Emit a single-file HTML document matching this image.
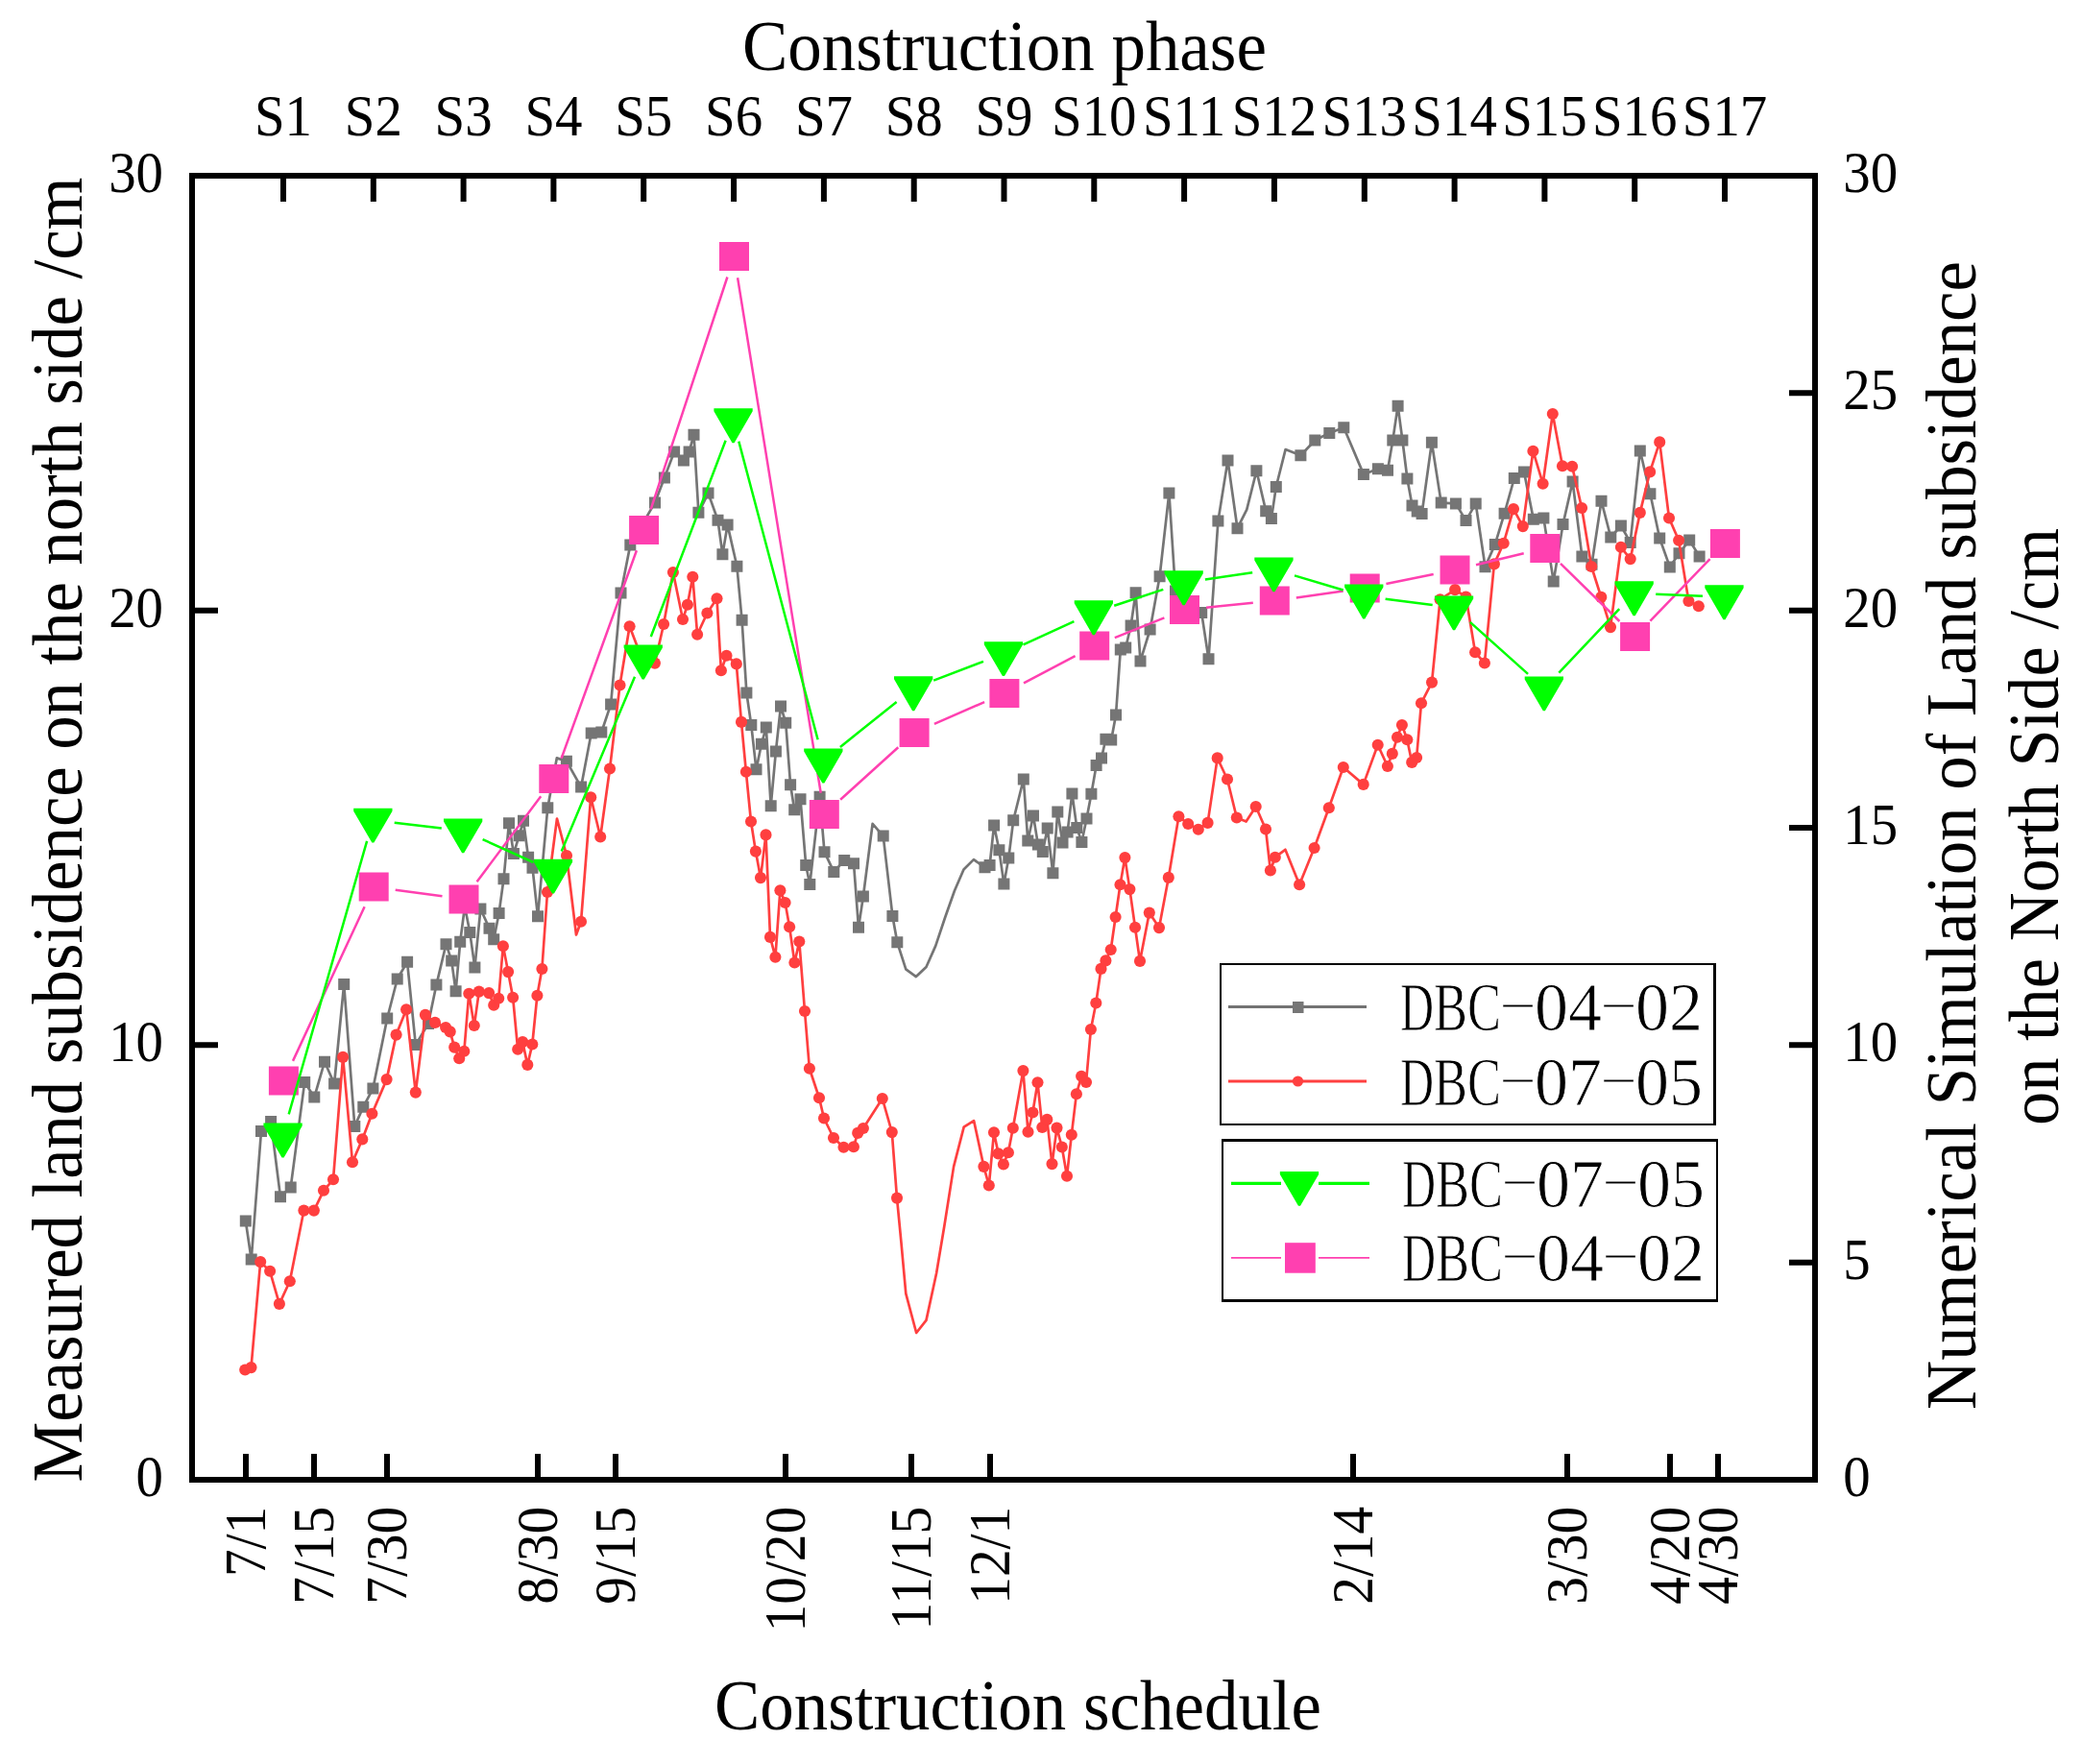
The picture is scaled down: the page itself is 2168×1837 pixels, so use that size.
<!DOCTYPE html>
<html lang="en"><head><meta charset="utf-8"><title>Construction phase</title>
<style>html,body{margin:0;padding:0;background:#fff}svg{display:block}text{font-family:"Liberation Serif",serif;fill:#000}</style></head><body>
<svg width="2168" height="1837" viewBox="0 0 2168 1837">
<rect width="2168" height="1837" fill="#fff"/>
<path d="M255.8 1271.5 L261.7 1311.5 L272.0 1178.0 L282.1 1168.0 L292.0 1246.3 L302.7 1236.4 L317.2 1126.9 L327.3 1142.6 L338.0 1105.7 L348.1 1128.5 L358.2 1025.0 L369.3 1172.9 L378.3 1152.7 L388.4 1133.6 L403.2 1060.5 L413.7 1019.5 L424.1 1001.8 L432.8 1088.1 L446.0 1066.0 L454.4 1025.6 L464.5 983.2 L470.2 1000.4 L474.6 1032.2 L479.2 980.8 L484.0 944.0 L489.3 971.1 L494.4 1007.4 L500.4 946.5 L509.5 966.7 L514.2 978.2 L519.6 950.9 L524.5 915.3 L530.0 857.2 L534.9 889.0 L540.6 870.2 L545.0 854.7 L550.1 892.8 L554.5 903.7 L560.0 954.3 L570.3 841.2 L579.8 789.4 L589.9 792.7 L605.1 819.6 L615.7 763.6 L626.3 762.5 L636.1 733.4 L646.5 617.6 L656.3 567.5 L682.0 523.4 L691.9 497.6 L702.1 470.6 L711.9 479.6 L717.6 470.6 L722.5 452.7 L727.4 533.8 L737.5 513.6 L747.5 541.7 L752.4 577.3 L757.6 546.6 L767.4 589.8 L772.6 645.8 L777.4 721.6 L782.3 755.1 L787.5 801.3 L792.9 774.7 L797.8 757.6 L802.7 839.2 L807.9 782.4 L813.0 735.5 L818.2 752.7 L823.1 817.2 L827.2 843.3 L833.5 832.3 L839.2 900.9 L843.3 920.9 L853.6 829.8 L858.5 887.3 L868.3 907.9 L879.2 896.0 L889.0 899.2 L894.0 965.8 L898.9 933.5 L908.6 857.9 L919.7 870.6 L929.4 953.9 L934.3 981.3 L943.3 1009.4 L953.9 1017.1 L964.5 1007.0 L974.3 984.9 L984.1 955.5 L993.9 927.8 L1003.5 905.5 L1013.9 895.1 L1025.5 903.3 L1030.6 901.0 L1035.1 859.5 L1040.4 885.3 L1045.4 920.5 L1050.3 893.5 L1055.2 854.3 L1065.8 811.5 L1070.3 875.5 L1076.0 849.4 L1080.9 879.6 L1085.8 887.0 L1090.7 862.5 L1096.4 909.3 L1101.3 845.5 L1106.5 877.4 L1111.6 866.6 L1116.4 826.5 L1121.3 861.9 L1126.4 877.0 L1131.5 852.5 L1136.4 826.8 L1141.6 797.1 L1147.0 789.4 L1151.4 769.8 L1157.2 770.6 L1162.0 744.5 L1166.8 676.4 L1172.2 674.5 L1177.6 651.5 L1182.6 617.3 L1187.5 688.4 L1197.6 655.5 L1207.6 600.2 L1217.4 513.5 L1224.0 615.5 L1251.2 638.1 L1258.5 686.2 L1268.4 542.6 L1278.5 479.5 L1288.5 550.2 L1298.3 530.6 L1308.4 490.3 L1318.2 532.3 L1323.9 539.9 L1328.8 507.0 L1338.6 468.1 L1354.4 474.3 L1369.3 458.5 L1384.3 450.9 L1399.3 445.2 L1419.9 493.9 L1434.9 488.2 L1445.0 489.8 L1450.3 458.5 L1455.6 422.7 L1460.4 458.5 L1465.4 498.5 L1470.5 526.6 L1475.7 532.5 L1480.6 535.0 L1490.9 460.7 L1500.7 523.6 L1515.9 524.4 L1526.5 542.1 L1536.7 524.4 L1546.5 590.2 L1556.8 566.9 L1566.6 534.7 L1576.8 498.0 L1587.0 491.4 L1596.8 540.8 L1607.4 539.6 L1617.7 605.4 L1627.5 546.1 L1637.6 501.6 L1647.4 579.6 L1657.5 587.8 L1667.5 521.7 L1677.3 559.5 L1687.9 547.5 L1697.7 564.9 L1707.8 469.4 L1718.4 514.3 L1728.2 560.5 L1738.8 590.4 L1748.5 576.3 L1759.2 562.5 L1769.6 579.4" fill="none" stroke="#757575" stroke-width="2.7" stroke-linejoin="round"/>
<path fill="#757575" d="M249.8 1265.5h12v12h-12zM255.7 1305.5h12v12h-12zM266.0 1172.0h12v12h-12zM276.1 1162.0h12v12h-12zM286.0 1240.3h12v12h-12zM296.7 1230.4h12v12h-12zM311.2 1120.9h12v12h-12zM321.3 1136.6h12v12h-12zM332.0 1099.7h12v12h-12zM342.1 1122.5h12v12h-12zM352.2 1019.0h12v12h-12zM363.3 1166.9h12v12h-12zM372.3 1146.7h12v12h-12zM382.4 1127.6h12v12h-12zM397.2 1054.5h12v12h-12zM407.7 1013.5h12v12h-12zM418.1 995.8h12v12h-12zM426.8 1082.1h12v12h-12zM440.0 1060.0h12v12h-12zM448.4 1019.6h12v12h-12zM458.5 977.2h12v12h-12zM464.2 994.4h12v12h-12zM468.6 1026.2h12v12h-12zM473.2 974.8h12v12h-12zM478.0 938.0h12v12h-12zM483.3 965.1h12v12h-12zM488.4 1001.4h12v12h-12zM494.4 940.5h12v12h-12zM503.5 960.7h12v12h-12zM508.2 972.2h12v12h-12zM513.6 944.9h12v12h-12zM518.5 909.3h12v12h-12zM524.0 851.2h12v12h-12zM528.9 883.0h12v12h-12zM534.6 864.2h12v12h-12zM539.0 848.7h12v12h-12zM544.1 886.8h12v12h-12zM548.5 897.7h12v12h-12zM554.0 948.3h12v12h-12zM564.3 835.2h12v12h-12zM583.9 786.7h12v12h-12zM599.1 813.6h12v12h-12zM609.7 757.6h12v12h-12zM620.3 756.5h12v12h-12zM630.1 727.4h12v12h-12zM640.5 611.6h12v12h-12zM650.3 561.5h12v12h-12zM676.0 517.4h12v12h-12zM685.9 491.6h12v12h-12zM696.1 464.6h12v12h-12zM705.9 473.6h12v12h-12zM711.6 464.6h12v12h-12zM716.5 446.7h12v12h-12zM721.4 527.8h12v12h-12zM731.5 507.6h12v12h-12zM741.5 535.7h12v12h-12zM746.4 571.3h12v12h-12zM751.6 540.6h12v12h-12zM761.4 583.8h12v12h-12zM766.6 639.8h12v12h-12zM771.4 715.6h12v12h-12zM776.3 749.1h12v12h-12zM781.5 795.3h12v12h-12zM786.9 768.7h12v12h-12zM791.8 751.6h12v12h-12zM796.7 833.2h12v12h-12zM801.9 776.4h12v12h-12zM807.0 729.5h12v12h-12zM812.2 746.7h12v12h-12zM817.1 811.2h12v12h-12zM821.2 837.3h12v12h-12zM827.5 826.3h12v12h-12zM833.2 894.9h12v12h-12zM837.3 914.9h12v12h-12zM847.6 823.8h12v12h-12zM852.5 881.3h12v12h-12zM862.3 901.9h12v12h-12zM873.2 890.0h12v12h-12zM883.0 893.2h12v12h-12zM888.0 959.8h12v12h-12zM892.9 927.5h12v12h-12zM913.7 864.6h12v12h-12zM923.4 947.9h12v12h-12zM928.3 975.3h12v12h-12zM1019.5 897.3h12v12h-12zM1024.6 895.0h12v12h-12zM1029.1 853.5h12v12h-12zM1034.4 879.3h12v12h-12zM1039.4 914.5h12v12h-12zM1044.3 887.5h12v12h-12zM1049.2 848.3h12v12h-12zM1059.8 805.5h12v12h-12zM1064.3 869.5h12v12h-12zM1070.0 843.4h12v12h-12zM1074.9 873.6h12v12h-12zM1079.8 881.0h12v12h-12zM1084.7 856.5h12v12h-12zM1090.4 903.3h12v12h-12zM1095.3 839.5h12v12h-12zM1100.5 871.4h12v12h-12zM1105.6 860.6h12v12h-12zM1110.4 820.5h12v12h-12zM1115.3 855.9h12v12h-12zM1120.4 871.0h12v12h-12zM1125.5 846.5h12v12h-12zM1130.4 820.8h12v12h-12zM1135.6 791.1h12v12h-12zM1141.0 783.4h12v12h-12zM1145.4 763.8h12v12h-12zM1151.2 764.6h12v12h-12zM1156.0 738.5h12v12h-12zM1160.8 670.4h12v12h-12zM1166.2 668.5h12v12h-12zM1171.6 645.5h12v12h-12zM1176.6 611.3h12v12h-12zM1181.5 682.4h12v12h-12zM1191.6 649.5h12v12h-12zM1201.6 594.2h12v12h-12zM1211.4 507.5h12v12h-12zM1218.0 609.5h12v12h-12zM1245.2 632.1h12v12h-12zM1252.5 680.2h12v12h-12zM1262.4 536.6h12v12h-12zM1272.5 473.5h12v12h-12zM1282.5 544.2h12v12h-12zM1302.4 484.3h12v12h-12zM1312.2 526.3h12v12h-12zM1317.9 533.9h12v12h-12zM1322.8 501.0h12v12h-12zM1348.4 468.3h12v12h-12zM1363.3 452.5h12v12h-12zM1378.3 444.9h12v12h-12zM1393.3 439.2h12v12h-12zM1413.9 487.9h12v12h-12zM1428.9 482.2h12v12h-12zM1439.0 483.8h12v12h-12zM1444.3 452.5h12v12h-12zM1449.6 416.7h12v12h-12zM1454.4 452.5h12v12h-12zM1459.4 492.5h12v12h-12zM1464.5 520.6h12v12h-12zM1469.7 526.5h12v12h-12zM1474.6 529.0h12v12h-12zM1484.9 454.7h12v12h-12zM1494.7 517.6h12v12h-12zM1509.9 518.4h12v12h-12zM1520.5 536.1h12v12h-12zM1530.7 518.4h12v12h-12zM1540.5 584.2h12v12h-12zM1550.8 560.9h12v12h-12zM1560.6 528.7h12v12h-12zM1570.8 492.0h12v12h-12zM1581.0 485.4h12v12h-12zM1590.8 534.8h12v12h-12zM1601.4 533.6h12v12h-12zM1611.7 599.4h12v12h-12zM1621.5 540.1h12v12h-12zM1631.6 495.6h12v12h-12zM1641.4 573.6h12v12h-12zM1651.5 581.8h12v12h-12zM1661.5 515.7h12v12h-12zM1671.3 553.5h12v12h-12zM1681.9 541.5h12v12h-12zM1691.7 558.9h12v12h-12zM1701.8 463.4h12v12h-12zM1712.4 508.3h12v12h-12zM1722.2 554.5h12v12h-12zM1732.8 584.4h12v12h-12zM1742.5 570.3h12v12h-12zM1753.2 556.5h12v12h-12zM1763.6 573.4h12v12h-12z"/>
<path d="M255.2 1426.5 L261.5 1424.1 L271.2 1314.1 L281.1 1323.8 L290.9 1357.9 L301.8 1334.3 L316.4 1260.6 L326.9 1260.6 L337.0 1239.8 L347.0 1228.3 L357.1 1100.9 L367.0 1210.2 L377.3 1186.4 L387.4 1159.8 L402.6 1124.1 L412.6 1077.6 L423.1 1051.2 L432.8 1137.6 L442.9 1056.9 L453.0 1064.9 L464.1 1070.0 L468.7 1074.4 L473.2 1090.6 L478.2 1102.3 L483.3 1094.8 L488.3 1034.7 L493.8 1068.0 L498.8 1032.6 L509.1 1034.1 L514.2 1046.8 L519.2 1039.7 L523.9 985.2 L529.1 1012.1 L534.1 1038.7 L539.2 1092.8 L544.2 1085.1 L549.3 1108.9 L554.3 1087.5 L559.4 1036.7 L564.4 1009.0 L570.0 929.0 L580.0 852.5 L590.0 891.0 L600.0 973.5 L605.0 959.8 L615.2 830.2 L625.2 871.5 L635.0 800.5 L645.5 713.5 L655.6 652.3 L669.6 689.0 L681.9 690.6 L691.1 650.0 L700.9 596.0 L711.0 645.0 L715.9 629.8 L721.3 600.8 L726.1 660.7 L736.4 638.5 L746.5 623.3 L750.9 698.3 L756.5 682.8 L766.8 691.4 L772.0 751.9 L776.9 803.8 L782.0 855.5 L786.9 886.6 L792.0 914.1 L797.5 869.4 L802.0 975.9 L807.4 996.7 L812.4 927.2 L817.6 940.0 L822.1 965.3 L827.4 1002.5 L832.3 980.5 L838.0 1053.0 L842.9 1112.8 L853.0 1143.2 L858.0 1164.5 L868.0 1185.0 L878.5 1194.8 L888.9 1194.2 L893.2 1179.9 L898.9 1175.0 L918.8 1144.0 L928.8 1179.1 L934.0 1247.6 L938.4 1293.3 L943.3 1347.2 L954.2 1388.0 L964.5 1374.9 L975.1 1326.0 L983.3 1277.0 L993.1 1214.9 L1003.7 1173.7 L1014.1 1167.1 L1024.4 1214.9 L1029.8 1234.5 L1035.0 1179.3 L1039.6 1201.4 L1044.9 1212.5 L1049.9 1200.2 L1054.8 1174.8 L1065.4 1115.1 L1070.5 1178.7 L1075.4 1158.5 L1080.5 1127.3 L1085.3 1174.0 L1090.3 1165.9 L1095.5 1212.1 L1100.5 1174.6 L1105.8 1194.5 L1111.0 1224.7 L1115.8 1181.8 L1120.9 1139.2 L1126.1 1120.8 L1131.0 1127.0 L1135.9 1072.0 L1141.3 1044.5 L1146.5 1008.9 L1151.4 1000.4 L1156.7 989.0 L1161.6 955.0 L1166.5 921.2 L1171.4 893.1 L1176.4 926.1 L1182.0 965.8 L1187.0 1000.9 L1196.8 950.6 L1207.0 966.1 L1216.8 913.9 L1227.4 850.3 L1237.2 858.0 L1247.8 863.7 L1257.6 856.9 L1267.7 789.4 L1278.0 811.5 L1287.8 851.5 L1297.6 855.6 L1307.7 840.0 L1318.0 863.5 L1322.9 906.5 L1327.8 892.7 L1338.4 884.8 L1353.1 921.2 L1368.6 883.0 L1383.8 841.2 L1398.8 799.0 L1419.7 816.9 L1434.7 775.8 L1444.9 798.0 L1449.8 784.9 L1455.0 767.8 L1459.9 755.0 L1465.3 770.2 L1470.2 793.9 L1475.1 789.0 L1480.0 732.2 L1491.0 710.6 L1499.6 624.3 L1515.1 614.1 L1526.5 621.5 L1536.1 679.3 L1545.9 690.5 L1555.9 587.4 L1565.7 565.7 L1576.0 530.1 L1585.8 548.1 L1596.4 469.7 L1606.6 503.7 L1616.8 431.0 L1627.0 485.2 L1637.1 485.7 L1647.1 529.0 L1657.2 590.0 L1667.3 621.9 L1677.0 653.1 L1687.9 569.8 L1697.7 582.1 L1707.8 533.9 L1718.1 491.4 L1728.2 460.4 L1738.0 539.5 L1748.1 562.8 L1758.4 626.0 L1768.8 631.2" fill="none" stroke="#ff3f3f" stroke-width="2.7" stroke-linejoin="round"/>
<g fill="#ff3f3f"><circle cx="255.2" cy="1426.5" r="6.05"/><circle cx="261.5" cy="1424.1" r="6.05"/><circle cx="271.2" cy="1314.1" r="6.05"/><circle cx="281.1" cy="1323.8" r="6.05"/><circle cx="290.9" cy="1357.9" r="6.05"/><circle cx="301.8" cy="1334.3" r="6.05"/><circle cx="316.4" cy="1260.6" r="6.05"/><circle cx="326.9" cy="1260.6" r="6.05"/><circle cx="337.0" cy="1239.8" r="6.05"/><circle cx="347.0" cy="1228.3" r="6.05"/><circle cx="357.1" cy="1100.9" r="6.05"/><circle cx="367.0" cy="1210.2" r="6.05"/><circle cx="377.3" cy="1186.4" r="6.05"/><circle cx="387.4" cy="1159.8" r="6.05"/><circle cx="402.6" cy="1124.1" r="6.05"/><circle cx="412.6" cy="1077.6" r="6.05"/><circle cx="423.1" cy="1051.2" r="6.05"/><circle cx="432.8" cy="1137.6" r="6.05"/><circle cx="442.9" cy="1056.9" r="6.05"/><circle cx="453.0" cy="1064.9" r="6.05"/><circle cx="464.1" cy="1070.0" r="6.05"/><circle cx="468.7" cy="1074.4" r="6.05"/><circle cx="473.2" cy="1090.6" r="6.05"/><circle cx="478.2" cy="1102.3" r="6.05"/><circle cx="483.3" cy="1094.8" r="6.05"/><circle cx="488.3" cy="1034.7" r="6.05"/><circle cx="493.8" cy="1068.0" r="6.05"/><circle cx="498.8" cy="1032.6" r="6.05"/><circle cx="509.1" cy="1034.1" r="6.05"/><circle cx="514.2" cy="1046.8" r="6.05"/><circle cx="519.2" cy="1039.7" r="6.05"/><circle cx="523.9" cy="985.2" r="6.05"/><circle cx="529.1" cy="1012.1" r="6.05"/><circle cx="534.1" cy="1038.7" r="6.05"/><circle cx="539.2" cy="1092.8" r="6.05"/><circle cx="544.2" cy="1085.1" r="6.05"/><circle cx="549.3" cy="1108.9" r="6.05"/><circle cx="554.3" cy="1087.5" r="6.05"/><circle cx="559.4" cy="1036.7" r="6.05"/><circle cx="564.4" cy="1009.0" r="6.05"/><circle cx="570.0" cy="929.0" r="6.05"/><circle cx="590.0" cy="891.0" r="6.05"/><circle cx="605.0" cy="959.8" r="6.05"/><circle cx="615.2" cy="830.2" r="6.05"/><circle cx="625.2" cy="871.5" r="6.05"/><circle cx="635.0" cy="800.5" r="6.05"/><circle cx="645.5" cy="713.5" r="6.05"/><circle cx="655.6" cy="652.3" r="6.05"/><circle cx="669.6" cy="689.0" r="6.05"/><circle cx="681.9" cy="690.6" r="6.05"/><circle cx="691.1" cy="650.0" r="6.05"/><circle cx="700.9" cy="596.0" r="6.05"/><circle cx="711.0" cy="645.0" r="6.05"/><circle cx="715.9" cy="629.8" r="6.05"/><circle cx="721.3" cy="600.8" r="6.05"/><circle cx="726.1" cy="660.7" r="6.05"/><circle cx="736.4" cy="638.5" r="6.05"/><circle cx="746.5" cy="623.3" r="6.05"/><circle cx="750.9" cy="698.3" r="6.05"/><circle cx="756.5" cy="682.8" r="6.05"/><circle cx="766.8" cy="691.4" r="6.05"/><circle cx="772.0" cy="751.9" r="6.05"/><circle cx="776.9" cy="803.8" r="6.05"/><circle cx="782.0" cy="855.5" r="6.05"/><circle cx="786.9" cy="886.6" r="6.05"/><circle cx="792.0" cy="914.1" r="6.05"/><circle cx="797.5" cy="869.4" r="6.05"/><circle cx="802.0" cy="975.9" r="6.05"/><circle cx="807.4" cy="996.7" r="6.05"/><circle cx="812.4" cy="927.2" r="6.05"/><circle cx="817.6" cy="940.0" r="6.05"/><circle cx="822.1" cy="965.3" r="6.05"/><circle cx="827.4" cy="1002.5" r="6.05"/><circle cx="832.3" cy="980.5" r="6.05"/><circle cx="838.0" cy="1053.0" r="6.05"/><circle cx="842.9" cy="1112.8" r="6.05"/><circle cx="853.0" cy="1143.2" r="6.05"/><circle cx="858.0" cy="1164.5" r="6.05"/><circle cx="868.0" cy="1185.0" r="6.05"/><circle cx="878.5" cy="1194.8" r="6.05"/><circle cx="888.9" cy="1194.2" r="6.05"/><circle cx="893.2" cy="1179.9" r="6.05"/><circle cx="898.9" cy="1175.0" r="6.05"/><circle cx="918.8" cy="1144.0" r="6.05"/><circle cx="928.8" cy="1179.1" r="6.05"/><circle cx="934.0" cy="1247.6" r="6.05"/><circle cx="1024.4" cy="1214.9" r="6.05"/><circle cx="1029.8" cy="1234.5" r="6.05"/><circle cx="1035.0" cy="1179.3" r="6.05"/><circle cx="1039.6" cy="1201.4" r="6.05"/><circle cx="1044.9" cy="1212.5" r="6.05"/><circle cx="1049.9" cy="1200.2" r="6.05"/><circle cx="1054.8" cy="1174.8" r="6.05"/><circle cx="1065.4" cy="1115.1" r="6.05"/><circle cx="1070.5" cy="1178.7" r="6.05"/><circle cx="1075.4" cy="1158.5" r="6.05"/><circle cx="1080.5" cy="1127.3" r="6.05"/><circle cx="1085.3" cy="1174.0" r="6.05"/><circle cx="1090.3" cy="1165.9" r="6.05"/><circle cx="1095.5" cy="1212.1" r="6.05"/><circle cx="1100.5" cy="1174.6" r="6.05"/><circle cx="1105.8" cy="1194.5" r="6.05"/><circle cx="1111.0" cy="1224.7" r="6.05"/><circle cx="1115.8" cy="1181.8" r="6.05"/><circle cx="1120.9" cy="1139.2" r="6.05"/><circle cx="1126.1" cy="1120.8" r="6.05"/><circle cx="1131.0" cy="1127.0" r="6.05"/><circle cx="1135.9" cy="1072.0" r="6.05"/><circle cx="1141.3" cy="1044.5" r="6.05"/><circle cx="1146.5" cy="1008.9" r="6.05"/><circle cx="1151.4" cy="1000.4" r="6.05"/><circle cx="1156.7" cy="989.0" r="6.05"/><circle cx="1161.6" cy="955.0" r="6.05"/><circle cx="1166.5" cy="921.2" r="6.05"/><circle cx="1171.4" cy="893.1" r="6.05"/><circle cx="1176.4" cy="926.1" r="6.05"/><circle cx="1182.0" cy="965.8" r="6.05"/><circle cx="1187.0" cy="1000.9" r="6.05"/><circle cx="1196.8" cy="950.6" r="6.05"/><circle cx="1207.0" cy="966.1" r="6.05"/><circle cx="1216.8" cy="913.9" r="6.05"/><circle cx="1227.4" cy="850.3" r="6.05"/><circle cx="1237.2" cy="858.0" r="6.05"/><circle cx="1247.8" cy="863.7" r="6.05"/><circle cx="1257.6" cy="856.9" r="6.05"/><circle cx="1267.7" cy="789.4" r="6.05"/><circle cx="1278.0" cy="811.5" r="6.05"/><circle cx="1287.8" cy="851.5" r="6.05"/><circle cx="1307.7" cy="840.0" r="6.05"/><circle cx="1318.0" cy="863.5" r="6.05"/><circle cx="1322.9" cy="906.5" r="6.05"/><circle cx="1327.8" cy="892.7" r="6.05"/><circle cx="1353.1" cy="921.2" r="6.05"/><circle cx="1368.6" cy="883.0" r="6.05"/><circle cx="1383.8" cy="841.2" r="6.05"/><circle cx="1398.8" cy="799.0" r="6.05"/><circle cx="1419.7" cy="816.9" r="6.05"/><circle cx="1434.7" cy="775.8" r="6.05"/><circle cx="1444.9" cy="798.0" r="6.05"/><circle cx="1449.8" cy="784.9" r="6.05"/><circle cx="1455.0" cy="767.8" r="6.05"/><circle cx="1459.9" cy="755.0" r="6.05"/><circle cx="1465.3" cy="770.2" r="6.05"/><circle cx="1470.2" cy="793.9" r="6.05"/><circle cx="1475.1" cy="789.0" r="6.05"/><circle cx="1480.0" cy="732.2" r="6.05"/><circle cx="1491.0" cy="710.6" r="6.05"/><circle cx="1499.6" cy="624.3" r="6.05"/><circle cx="1515.1" cy="614.1" r="6.05"/><circle cx="1526.5" cy="621.5" r="6.05"/><circle cx="1536.1" cy="679.3" r="6.05"/><circle cx="1545.9" cy="690.5" r="6.05"/><circle cx="1555.9" cy="587.4" r="6.05"/><circle cx="1565.7" cy="565.7" r="6.05"/><circle cx="1576.0" cy="530.1" r="6.05"/><circle cx="1585.8" cy="548.1" r="6.05"/><circle cx="1596.4" cy="469.7" r="6.05"/><circle cx="1606.6" cy="503.7" r="6.05"/><circle cx="1616.8" cy="431.0" r="6.05"/><circle cx="1627.0" cy="485.2" r="6.05"/><circle cx="1637.1" cy="485.7" r="6.05"/><circle cx="1647.1" cy="529.0" r="6.05"/><circle cx="1657.2" cy="590.0" r="6.05"/><circle cx="1667.3" cy="621.9" r="6.05"/><circle cx="1677.0" cy="653.1" r="6.05"/><circle cx="1687.9" cy="569.8" r="6.05"/><circle cx="1697.7" cy="582.1" r="6.05"/><circle cx="1707.8" cy="533.9" r="6.05"/><circle cx="1718.1" cy="491.4" r="6.05"/><circle cx="1728.2" cy="460.4" r="6.05"/><circle cx="1738.0" cy="539.5" r="6.05"/><circle cx="1748.1" cy="562.8" r="6.05"/><circle cx="1758.4" cy="626.0" r="6.05"/><circle cx="1768.8" cy="631.2" r="6.05"/></g>
<path d="M305.0 1104.9L379.6 944.2M411.7 926.7L460.5 933.3M496.6 918.2L563.2 829.2M584.6 789.7L662.9 573.2M677.7 530.3L757.4 288.5M768.1 289.3L854.7 825.7M875.1 832.8L935.3 778.3M972.9 753.9L1025.1 731.1M1066.0 711.4L1119.6 683.1M1160.8 664.1L1212.4 643.4M1256.1 632.7L1304.8 627.8M1349.8 622.4L1398.7 615.6M1443.4 608.0L1492.7 598.0M1537.0 588.2L1586.7 576.3M1625.0 586.9L1686.4 647.0M1718.4 646.6L1780.6 582.2" fill="none" stroke="#ff40b0" stroke-width="2.5"/>
<path fill="#ff40b0" d="M279.9 1110.5h31v30h-31zM373.7 908.6h31v30h-31zM467.5 921.4h31v30h-31zM561.3 796.0h31v30h-31zM655.1 536.9h31v30h-31zM749.0 251.9h31v30h-31zM842.8 833.1h31v30h-31zM936.6 748.0h31v30h-31zM1030.4 707.0h31v30h-31zM1124.2 657.5h31v30h-31zM1218.0 620.0h31v30h-31zM1311.8 610.5h31v30h-31zM1405.7 597.5h31v30h-31zM1499.5 578.5h31v30h-31zM1593.3 556.0h31v30h-31zM1687.1 647.9h31v30h-31zM1780.9 550.9h31v30h-31z"/>
<path d="M300.7 1160.4L382.1 875.8M410.7 856.7L459.8 862.4M502.6 874.1L555.4 898.0M584.7 886.5L661.0 704.7M677.8 663.0L755.6 458.8M769.3 459.6L851.6 770.2M874.9 777.9L933.6 730.9M972.2 708.7L1024.0 688.8M1065.5 671.3L1118.4 647.2M1160.2 630.7L1211.3 613.9M1254.9 603.5L1304.2 596.2M1348.0 599.4L1398.7 614.5M1442.6 623.8L1491.7 630.1M1530.8 647.9L1591.1 701.9M1623.3 700.6L1686.2 634.1M1724.2 618.8L1773.0 620.8" fill="none" stroke="#00ff00" stroke-width="2.5"/>
<path fill="#00ff00" d="M274.4 1169.5h40.3v3l-19.1 32.9h-2.1l-19.1 -32.9zM368.2 841.7h40.3v3l-19.1 32.9h-2.1l-19.1 -32.9zM462.0 852.4h40.3v3l-19.1 32.9h-2.1l-19.1 -32.9zM555.8 894.7h40.3v3l-19.1 32.9h-2.1l-19.1 -32.9zM649.6 671.5h40.3v3l-19.1 32.9h-2.1l-19.1 -32.9zM743.4 425.3h40.3v3l-19.1 32.9h-2.1l-19.1 -32.9zM837.2 779.5h40.3v3l-19.1 32.9h-2.1l-19.1 -32.9zM931.0 704.3h40.3v3l-19.1 32.9h-2.1l-19.1 -32.9zM1024.8 668.2h40.3v3l-19.1 32.9h-2.1l-19.1 -32.9zM1118.7 625.3h40.3v3l-19.1 32.9h-2.1l-19.1 -32.9zM1212.5 594.3h40.3v3l-19.1 32.9h-2.1l-19.1 -32.9zM1306.3 580.4h40.3v3l-19.1 32.9h-2.1l-19.1 -32.9zM1400.1 608.5h40.3v3l-19.1 32.9h-2.1l-19.1 -32.9zM1493.9 620.4h40.3v3l-19.1 32.9h-2.1l-19.1 -32.9zM1587.7 704.4h40.3v3l-19.1 32.9h-2.1l-19.1 -32.9zM1681.5 605.3h40.3v3l-19.1 32.9h-2.1l-19.1 -32.9zM1775.3 609.3h40.3v3l-19.1 32.9h-2.1l-19.1 -32.9z"/>
<g stroke="#000" stroke-width="6" fill="none" stroke-linecap="butt">
<rect x="200" y="183" width="1690" height="1358"/>
<path d="M295.0 183v27 M388.8 183v27 M482.6 183v27 M576.4 183v27 M670.2 183v27 M764.1 183v27 M857.9 183v27 M951.7 183v27 M1045.5 183v27 M1139.3 183v27 M1233.1 183v27 M1326.9 183v27 M1420.8 183v27 M1514.6 183v27 M1608.4 183v27 M1702.2 183v27 M1796.0 183v27"/>
<path d="M256 1541v-27 M327 1541v-27 M403 1541v-27 M560 1541v-27 M641 1541v-27 M818 1541v-27 M949 1541v-27 M1031 1541v-27 M1409 1541v-27 M1632 1541v-27 M1739 1541v-27 M1789 1541v-27"/>
<path d="M200 1088.3h27 M200 635.7h27"/>
<path d="M1890 1314.7h-27 M1890 1088.3h-27 M1890 862.0h-27 M1890 635.7h-27 M1890 409.3h-27"/>
</g>
<text x="1046" y="73" font-size="73" text-anchor="middle" textLength="546" lengthAdjust="spacingAndGlyphs">Construction phase</text>
<text x="1060" y="1801" font-size="73" text-anchor="middle" textLength="632" lengthAdjust="spacingAndGlyphs">Construction schedule</text>
<g font-size="61.5" text-anchor="middle">
<text transform="translate(295.0,140.7) scale(0.925,1)">S1</text>
<text transform="translate(388.8,140.7) scale(0.925,1)">S2</text>
<text transform="translate(482.6,140.7) scale(0.925,1)">S3</text>
<text transform="translate(576.4,140.7) scale(0.925,1)">S4</text>
<text transform="translate(670.2,140.7) scale(0.925,1)">S5</text>
<text transform="translate(764.1,140.7) scale(0.925,1)">S6</text>
<text transform="translate(857.9,140.7) scale(0.925,1)">S7</text>
<text transform="translate(951.7,140.7) scale(0.925,1)">S8</text>
<text transform="translate(1045.5,140.7) scale(0.925,1)">S9</text>
<text transform="translate(1139.3,140.7) scale(0.925,1)">S10</text>
<text transform="translate(1233.1,140.7) scale(0.925,1)">S11</text>
<text transform="translate(1326.9,140.7) scale(0.925,1)">S12</text>
<text transform="translate(1420.8,140.7) scale(0.925,1)">S13</text>
<text transform="translate(1514.6,140.7) scale(0.925,1)">S14</text>
<text transform="translate(1608.4,140.7) scale(0.925,1)">S15</text>
<text transform="translate(1702.2,140.7) scale(0.925,1)">S16</text>
<text transform="translate(1796.0,140.7) scale(0.925,1)">S17</text>
</g>
<g font-size="61.5" text-anchor="end">
<text transform="translate(170,1557.8) scale(0.925,1)">0</text>
<text transform="translate(170,1105.1) scale(0.925,1)">10</text>
<text transform="translate(170,652.5) scale(0.925,1)">20</text>
<text transform="translate(170,199.8) scale(0.925,1)">30</text>
</g>
<g font-size="61.5" text-anchor="start">
<text transform="translate(1919.2,1557.8) scale(0.925,1)">0</text>
<text transform="translate(1919.2,1331.5) scale(0.925,1)">5</text>
<text transform="translate(1919.2,1105.1) scale(0.925,1)">10</text>
<text transform="translate(1919.2,878.8) scale(0.925,1)">15</text>
<text transform="translate(1919.2,652.5) scale(0.925,1)">20</text>
<text transform="translate(1919.2,426.1) scale(0.925,1)">25</text>
<text transform="translate(1919.2,199.8) scale(0.925,1)">30</text>
</g>
<g font-size="61.5" text-anchor="end">
<text transform="translate(275.5,1568.7) rotate(-90) scale(0.934,1)">7/1</text>
<text transform="translate(346.5,1568.7) rotate(-90) scale(0.934,1)">7/15</text>
<text transform="translate(422.5,1568.7) rotate(-90) scale(0.934,1)">7/30</text>
<text transform="translate(579.5,1568.7) rotate(-90) scale(0.934,1)">8/30</text>
<text transform="translate(660.5,1568.7) rotate(-90) scale(0.934,1)">9/15</text>
<text transform="translate(837.5,1568.7) rotate(-90) scale(0.934,1)">10/20</text>
<text transform="translate(968.5,1568.7) rotate(-90) scale(0.934,1)">11/15</text>
<text transform="translate(1050.5,1568.7) rotate(-90) scale(0.934,1)">12/1</text>
<text transform="translate(1428.5,1568.7) rotate(-90) scale(0.934,1)">2/14</text>
<text transform="translate(1651.5,1568.7) rotate(-90) scale(0.934,1)">3/30</text>
<text transform="translate(1758.5,1568.7) rotate(-90) scale(0.934,1)">4/20</text>
<text transform="translate(1808.5,1568.7) rotate(-90) scale(0.934,1)">4/30</text>
</g>
<text transform="translate(85,864) rotate(-90)" font-size="73" text-anchor="middle" textLength="1359" lengthAdjust="spacingAndGlyphs">Measured land subsidence on the north side /cm</text>
<text transform="translate(2057,870) rotate(-90)" font-size="73" text-anchor="middle" textLength="1196" lengthAdjust="spacingAndGlyphs">Numerical Simulation of Land subsidence</text>
<text transform="translate(2143,861) rotate(-90)" font-size="73" text-anchor="middle" textLength="622" lengthAdjust="spacingAndGlyphs">on the North Side /cm</text>
<path fill="#fff" d="M1270 1003H1787V1172H1270Z"/><path fill="#000" fill-rule="evenodd" d="M1270 1003H1787V1172H1270ZM1272 1005V1170H1784V1005Z"/>
<path fill="#fff" d="M1272 1186H1789V1356H1272Z"/><path fill="#000" fill-rule="evenodd" d="M1272 1186H1789V1356H1272ZM1274 1189V1353H1787V1189Z"/>
<path d="M1279 1048.5H1423" stroke="#737373" stroke-width="2.8"/>
<rect x="1346" y="1043" width="11.5" height="12" fill="#767676"/>
<path d="M1279 1126H1423" stroke="#ff4040" stroke-width="2.8"/>
<circle cx="1351.5" cy="1126" r="5.6" fill="#ff4040"/>
<path d="M1282 1232.4H1334M1373 1232.4H1426" stroke="#00ff00" stroke-width="3.2"/>
<path d="M1332.85 1219.9h40.3v3l-19.1 32.9h-2.1l-19.1 -32.9z" fill="#00ff00"/>
<path d="M1282 1309.8H1334M1373 1309.8H1426" stroke="#ff40b0" stroke-width="1.8"/>
<rect x="1338" y="1294.2" width="31.8" height="31.5" fill="#ff40b0"/>
<text aria-label="DBC-04-02" y="1073" font-size="72.5" stroke="#fff" stroke-width="0.9" paint-order="fill stroke"><tspan x="1458.0" textLength="35" lengthAdjust="spacingAndGlyphs">D</tspan><tspan x="1493.0" textLength="35" lengthAdjust="spacingAndGlyphs">B</tspan><tspan x="1528.0" textLength="35" lengthAdjust="spacingAndGlyphs">C</tspan><tspan x="1559.0" dy="-16" font-size="40" textLength="43" lengthAdjust="spacingAndGlyphs">-</tspan><tspan x="1598.0" dy="16" textLength="35" lengthAdjust="spacingAndGlyphs">0</tspan><tspan x="1633.0" textLength="35" lengthAdjust="spacingAndGlyphs">4</tspan><tspan x="1664.0" dy="-16" font-size="40" textLength="43" lengthAdjust="spacingAndGlyphs">-</tspan><tspan x="1703.0" dy="16" textLength="35" lengthAdjust="spacingAndGlyphs">0</tspan><tspan x="1738.0" textLength="35" lengthAdjust="spacingAndGlyphs">2</tspan></text>
<text aria-label="DBC-07-05" y="1150.5" font-size="72.5" stroke="#fff" stroke-width="0.9" paint-order="fill stroke"><tspan x="1458.0" textLength="35" lengthAdjust="spacingAndGlyphs">D</tspan><tspan x="1493.0" textLength="35" lengthAdjust="spacingAndGlyphs">B</tspan><tspan x="1528.0" textLength="35" lengthAdjust="spacingAndGlyphs">C</tspan><tspan x="1559.0" dy="-16" font-size="40" textLength="43" lengthAdjust="spacingAndGlyphs">-</tspan><tspan x="1598.0" dy="16" textLength="35" lengthAdjust="spacingAndGlyphs">0</tspan><tspan x="1633.0" textLength="35" lengthAdjust="spacingAndGlyphs">7</tspan><tspan x="1664.0" dy="-16" font-size="40" textLength="43" lengthAdjust="spacingAndGlyphs">-</tspan><tspan x="1703.0" dy="16" textLength="35" lengthAdjust="spacingAndGlyphs">0</tspan><tspan x="1738.0" textLength="35" lengthAdjust="spacingAndGlyphs">5</tspan></text>
<text aria-label="DBC-07-05" y="1257" font-size="72.5" stroke="#fff" stroke-width="0.9" paint-order="fill stroke"><tspan x="1460.0" textLength="35" lengthAdjust="spacingAndGlyphs">D</tspan><tspan x="1495.0" textLength="35" lengthAdjust="spacingAndGlyphs">B</tspan><tspan x="1530.0" textLength="35" lengthAdjust="spacingAndGlyphs">C</tspan><tspan x="1561.0" dy="-16" font-size="40" textLength="43" lengthAdjust="spacingAndGlyphs">-</tspan><tspan x="1600.0" dy="16" textLength="35" lengthAdjust="spacingAndGlyphs">0</tspan><tspan x="1635.0" textLength="35" lengthAdjust="spacingAndGlyphs">7</tspan><tspan x="1666.0" dy="-16" font-size="40" textLength="43" lengthAdjust="spacingAndGlyphs">-</tspan><tspan x="1705.0" dy="16" textLength="35" lengthAdjust="spacingAndGlyphs">0</tspan><tspan x="1740.0" textLength="35" lengthAdjust="spacingAndGlyphs">5</tspan></text>
<text aria-label="DBC-04-02" y="1334" font-size="72.5" stroke="#fff" stroke-width="0.9" paint-order="fill stroke"><tspan x="1460.0" textLength="35" lengthAdjust="spacingAndGlyphs">D</tspan><tspan x="1495.0" textLength="35" lengthAdjust="spacingAndGlyphs">B</tspan><tspan x="1530.0" textLength="35" lengthAdjust="spacingAndGlyphs">C</tspan><tspan x="1561.0" dy="-16" font-size="40" textLength="43" lengthAdjust="spacingAndGlyphs">-</tspan><tspan x="1600.0" dy="16" textLength="35" lengthAdjust="spacingAndGlyphs">0</tspan><tspan x="1635.0" textLength="35" lengthAdjust="spacingAndGlyphs">4</tspan><tspan x="1666.0" dy="-16" font-size="40" textLength="43" lengthAdjust="spacingAndGlyphs">-</tspan><tspan x="1705.0" dy="16" textLength="35" lengthAdjust="spacingAndGlyphs">0</tspan><tspan x="1740.0" textLength="35" lengthAdjust="spacingAndGlyphs">2</tspan></text>
</svg></body></html>
